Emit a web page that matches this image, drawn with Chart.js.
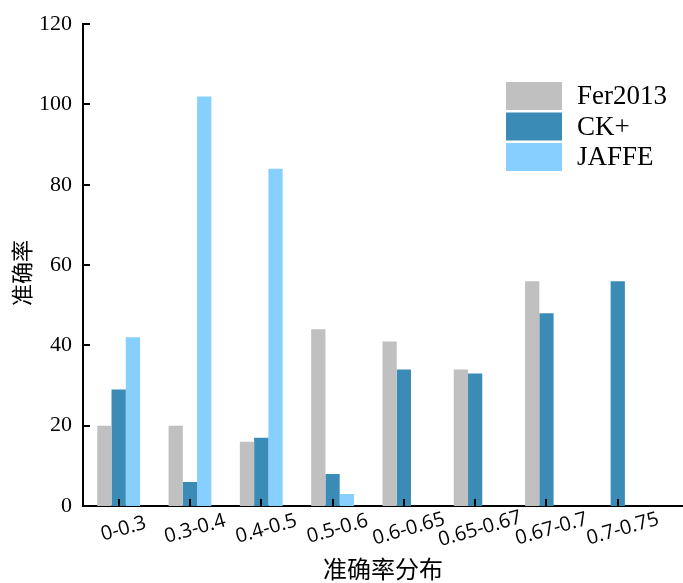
<!DOCTYPE html>
<html>
<head>
<meta charset="utf-8">
<script src="https://cdn.jsdelivr.net/npm/chart.js@4.4.1/dist/chart.umd.min.js"></script>
<style>
  html, body { margin: 0; padding: 0; background: #fff; }
  #wrap { width: 683px; height: 583px; position: relative; }
</style>
</head>
<body>
<div id="wrap"><canvas id="chart"></canvas></div>
<script>
const categories = ["0-0.3", "0.3-0.4", "0.4-0.5", "0.5-0.6", "0.6-0.65", "0.65-0.67", "0.67-0.7", "0.7-0.75"];
const fer2013 = [20, 20, 16, 44, 41, 34, 56, 0];
const ckPlus = [29, 6, 17, 8, 34, 33, 48, 56];
const jaffe = [42, 102, 84, 3, 0, 0, 0, 0];
const yTicks = [0, 20, 40, 60, 80, 100, 120];

const toPoints = arr => arr.map((v, i) => ({ x: i, y: v }));

// ticks pointing into the plot, x labels turned a little, legend in the top right
const decorPlugin = {
  id: "decor",
  afterDraw(chart) {
    const ctx = chart.ctx;
    const xs = chart.scales.x, ys = chart.scales.y;
    const area = chart.chartArea;
    ctx.save();
    ctx.strokeStyle = "#000";
    ctx.lineWidth = 2;
    ctx.beginPath();
    yTicks.forEach(v => {
      const y = Math.round(ys.getPixelForValue(v));
      ctx.moveTo(area.left, y);
      ctx.lineTo(area.left + 7, y);
    });
    categories.forEach((c, i) => {
      const x = Math.round(xs.getPixelForValue(i));
      ctx.moveTo(x, area.bottom);
      ctx.lineTo(x, area.bottom - 7);
    });
    ctx.stroke();

    ctx.fillStyle = "#000";
    ctx.font = "20px 'Open Sans'";
    ctx.textAlign = "center";
    ctx.textBaseline = "middle";
    categories.forEach((c, i) => {
      const x = xs.getPixelForValue(i);
      ctx.save();
      ctx.translate(x + 5, area.bottom + 23);
      ctx.rotate(-16 * Math.PI / 180);
      ctx.fillText(c, 0, 0);
      ctx.restore();
    });

    // y title, a bit below the middle of the axis as in the original
    ctx.save();
    ctx.font = "22px 'Noto Sans CJK SC'";
    ctx.translate(22, 273);
    ctx.rotate(-Math.PI / 2);
    ctx.fillText("准确率", 0, 0);
    ctx.restore();

    ctx.font = "27px 'Liberation Serif'";
    ctx.textAlign = "left";
    chart.data.datasets.forEach((ds, i) => {
      const top = 82 + i * 30.5;
      ctx.fillStyle = ds.backgroundColor;
      ctx.fillRect(506, top, 56, 28);
      ctx.fillStyle = "#000";
      ctx.fillText(ds.label, 577, top + 15);
    });
    ctx.restore();
  }
};

new Chart(document.getElementById("chart"), {
  type: "bar",
  data: {
    datasets: [
      { label: "Fer2013", data: toPoints(fer2013), backgroundColor: "#c0c0c0" },
      { label: "CK+", data: toPoints(ckPlus), backgroundColor: "#3b8bb7" },
      { label: "JAFFE", data: toPoints(jaffe), backgroundColor: "#86cfff" }
    ]
  },
  options: {
    responsive: true,
    maintainAspectRatio: false,
    animation: false,
    devicePixelRatio: 1,
    layout: { padding: { top: 18, right: 0, bottom: 0, left: 0 } },
    datasets: { bar: { categoryPercentage: 0.6, barPercentage: 1, borderWidth: 0 } },
    plugins: { legend: { display: false }, tooltip: { enabled: false } },
    scales: {
      x: {
        type: "linear",
        offset: false,
        min: -0.5,
        max: 7.915,
        grid: { display: false, drawTicks: false },
        border: { display: true, color: "#000", width: 2 },
        ticks: { display: false },
        afterBuildTicks: s => { s.ticks = categories.map((c, i) => ({ value: i })); },
        afterFit: s => { s.height = 77; },
        title: {
          display: true,
          text: "准确率分布",
          color: "#000",
          font: { family: "'Noto Sans CJK SC'", size: 24 },
          padding: { top: 0, bottom: 0 }
        }
      },
      y: {
        min: 0,
        max: 120,
        grid: { display: false, drawTicks: false },
        border: { display: true, color: "#000", width: 2 },
        ticks: {
          stepSize: 20,
          padding: 11,
          color: "#000",
          font: { family: "'Liberation Serif'", size: 22 }
        },
        afterFit: s => { s.width = 83; }
      }
    }
  },
  plugins: [decorPlugin]
});
</script>
</body>
</html>
